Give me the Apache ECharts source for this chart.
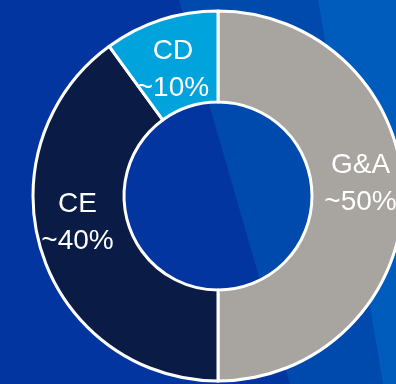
<!DOCTYPE html>
<html>
<head>
<meta charset="utf-8">
<script src="https://cdn.jsdelivr.net/npm/echarts@6/dist/echarts.min.js"></script>
<style>
  html, body { margin: 0; padding: 0; background: #0335a1; }
  #main { width: 396px; height: 384px; }
</style>
</head>
<body>
<div id="main"></div>
<script>
// donut data, clockwise from the top
var names = ['G&A', 'CE', 'CD'];
var shares = [50, 40, 10];
var labels = ['~50%', '~40%', '~10%'];

var colors = ['#a8a4a0', '#0a1c45', '#00a3dc'];
var labelOffsets = [[0, -12], [-5, -17], [-1, 9]];

var chart = echarts.init(document.getElementById('main'));

var option = {
  backgroundColor: '#0335a1',
  animation: false,
  graphic: [
    { // lighter middle band
      type: 'polygon', z: -10, silent: true,
      shape: { points: [[179, 0], [318, 0], [383, 384], [290, 384]] },
      style: { fill: '#004aad' }
    },
    { // lightest right band
      type: 'polygon', z: -10, silent: true,
      shape: { points: [[318, 0], [396, 0], [396, 384], [383, 384]] },
      style: { fill: '#005cbc' }
    }
  ],
  series: [
    {
      type: 'pie',
      center: [218, 196],
      radius: [94, 185],
      startAngle: 90,
      clockwise: true,
      avoidLabelOverlap: false,
      itemStyle: {
        borderColor: '#ffffff',
        borderWidth: 3
      },
      label: {
        show: true,
        position: 'inside',
        color: '#ffffff',
        fontFamily: 'Liberation Sans, Arial, sans-serif',
        fontSize: 28,
        lineHeight: 37,
        formatter: function (p) {
          return p.name + '\n' + labels[p.dataIndex];
        }
      },
      labelLine: { show: false },
      emphasis: { disabled: true },
      data: names.map(function (n, i) {
        return {
          name: n,
          value: shares[i],
          itemStyle: { color: colors[i] },
          label: { offset: labelOffsets[i] }
        };
      })
    }
  ]
};

chart.setOption(option);
</script>
</body>
</html>
